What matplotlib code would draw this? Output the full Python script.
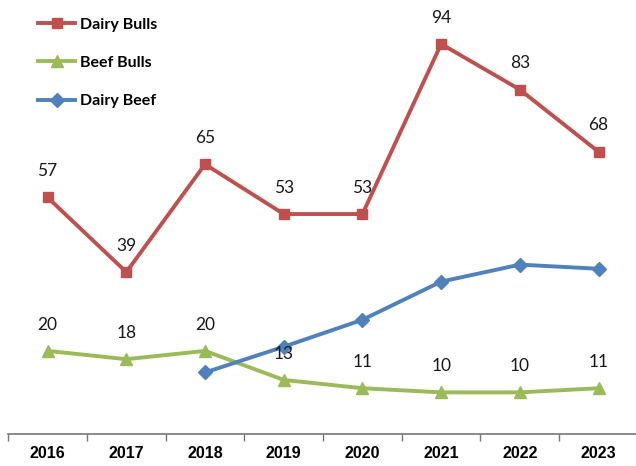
import matplotlib
matplotlib.use("Agg")
import matplotlib.pyplot as plt
import numpy as np

years = ["2016", "2017", "2018", "2019", "2020", "2021", "2022", "2023"]
dairy_bulls = [57, 39, 65, 53, 53, 94, 83, 68]
beef_bulls = [20, 18, 20, 13, 11, 10, 10, 11]
dairy_beef = [np.nan, np.nan, 14.8, 21, 27.5, 36.7, 40.8, 39.8]

red = "#C0504D"
green = "#9BBB59"
blue = "#4F81BD"

fig = plt.figure(figsize=(6.36, 4.66), dpi=100)
ax = fig.add_axes([0.013, 0.069, 0.99, 0.89])
x = np.arange(len(years))

ax.plot(x, dairy_bulls, color=red, lw=2.8, marker="s", ms=7, label="Dairy Bulls")
ax.plot(x, beef_bulls, color=green, lw=2.8, marker="^", ms=9, label="Beef Bulls")
ax.plot(x, dairy_beef, color=blue, lw=2.8, marker="D", ms=7, label="Dairy Beef")

# labels over the points
for series in (dairy_bulls, beef_bulls):
    for xi, v in zip(x, series):
        ax.annotate(str(v), (xi, v), xytext=(0, 19), textcoords="offset points",
                    ha="center", va="center", fontsize=12.5, family="Lato", color="#1a1a1a")

ax.set_xlim(-0.5, 7.5)
ax.set_ylim(0, 100)
ax.set_yticks([])
for s in ("left", "right", "top"):
    ax.spines[s].set_visible(False)
ax.spines["bottom"].set_color("#777777")
ax.spines["bottom"].set_linewidth(1.2)

ax.set_xticks(x)
ax.set_xticklabels(years, fontsize=11.5, fontweight="bold", family="Liberation Sans")
ax.tick_params(axis="x", which="major", length=0, pad=9)
ax.set_xticks(np.arange(-0.5, 8, 1), minor=True)
ax.tick_params(axis="x", which="minor", length=5, color="#777777", width=1)

leg = ax.legend(loc="upper left", bbox_to_anchor=(0.025, 1.038), frameon=False,
                prop={"family": "Lato", "weight": "bold", "size": 11.5},
                handlelength=2.3, labelspacing=1.5, handletextpad=0.3)

plt.savefig("out.png", dpi=100)
